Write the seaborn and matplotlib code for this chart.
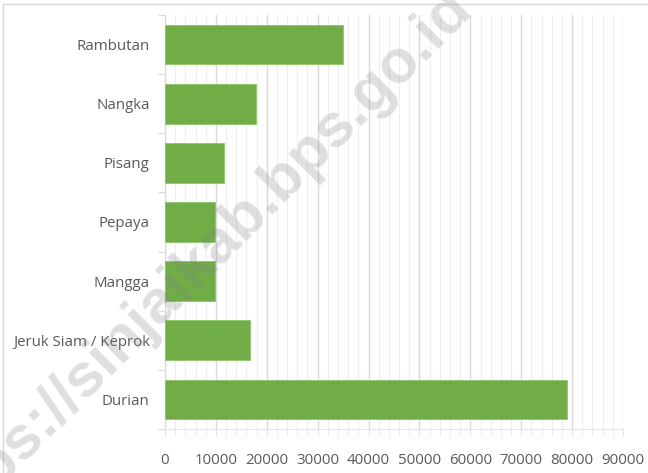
import matplotlib
matplotlib.use("Agg")
import matplotlib.pyplot as plt
import seaborn as sns
import pandas as pd
from matplotlib.ticker import MultipleLocator
from matplotlib.lines import Line2D

categories = ["Rambutan", "Nangka", "Pisang", "Pepaya", "Mangga", "Jeruk Siam / Keprok", "Durian"]
values = [35000, 17900, 11600, 9800, 9900, 16700, 79000]
xticks = [0, 10000, 20000, 30000, 40000, 50000, 60000, 70000, 80000, 90000]

df = pd.DataFrame({"cat": categories, "val": values})

sns.set_theme(style="white")
plt.rcParams['font.family'] = ['Open Sans', 'DejaVu Sans']

fig = plt.figure(figsize=(6.48, 4.73), dpi=100)
ax = fig.add_axes([165/648, 1 - 429/473, (623-165)/648, (429-15)/473])

sns.barplot(data=df, x="val", y="cat", orient="h", color="#70AD47", saturation=1,
            width=0.67, ax=ax, zorder=3, edgecolor="#8CC56A", linewidth=0.6)

ax.set_xlim(0, 90000)
ax.set_ylim(len(categories) - 0.5, -0.5)
ax.set_xticks(xticks)
ax.set_xticklabels([str(v) for v in xticks])
ax.xaxis.set_minor_locator(MultipleLocator(2000))
ax.grid(axis="x", which="major", color="#D9D9D9", linewidth=1.0, zorder=0)
ax.grid(axis="x", which="minor", color="#EDEDED", linewidth=0.8, zorder=0)
ax.set_axisbelow(True)
ax.set_xlabel("")
ax.set_ylabel("")

for s in ["top", "right"]:
    ax.spines[s].set_visible(False)
ax.spines["left"].set_color("#D9D9D9")
ax.spines["bottom"].set_color("#E4E4E4")
ax.spines["left"].set_linewidth(0.8)
ax.spines["bottom"].set_linewidth(0.8)

ax.set_yticks(range(len(categories)))
ax.set_yticklabels(categories)
ax.tick_params(axis="y", which="major", length=0, pad=11, labelsize=10.8, labelcolor="#595959")
ax.set_yticks([i - 0.5 for i in range(len(categories) + 1)], minor=True)
ax.tick_params(axis="y", which="minor", length=5, color="#D9D9D9", width=0.8, left=True)
ax.tick_params(axis="x", which="major", length=5, color="#E4E4E4", width=0.8, bottom=True,
               pad=12, labelsize=10.8, labelcolor="#595959")
ax.tick_params(axis="x", which="minor", length=5, color="#EDEDED", width=0.8, bottom=True)

# chart area border (partially visible)
fig.add_artist(Line2D([3/648, 1], [1 - 4/473, 1 - 4/473], color="#D9D9D9", linewidth=1.0))
fig.add_artist(Line2D([3/648, 3/648], [0, 1 - 4/473], color="#D9D9D9", linewidth=1.0))

# watermark
fig.text(196/648, 1 - 265/473, "https://sinjaikab.bps.go.id", rotation=45,
         ha="center", va="center", fontsize=44, fontweight="bold",
         family="Liberation Sans", color="#808080", alpha=0.25, zorder=10)

fig.savefig("out.png", dpi=100)
